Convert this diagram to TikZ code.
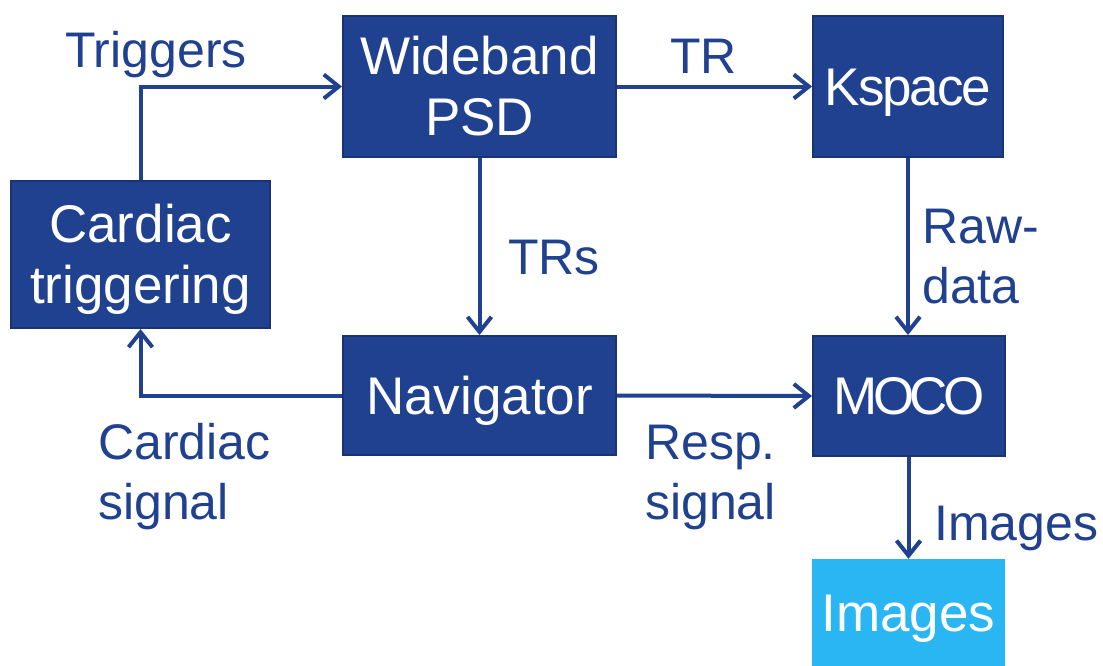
\documentclass[tikz,border=0pt]{standalone}
\usepackage{fontspec}
\setmainfont{Liberation Sans}
\usetikzlibrary{arrows.meta}
\definecolor{boxblue}{HTML}{1F4190}
\definecolor{edgeblue}{HTML}{1A3472}
\definecolor{lightblue}{HTML}{29B6F2}
\tikzset{
  blk/.style={draw=edgeblue, line width=2pt, fill=boxblue, text=white, inner sep=0pt, align=center,
    font=\fontsize{53}{61}\selectfont},
  oneline/.style={text height=38pt, text depth=1pt},
  lblk/.style={fill=lightblue, text=white, inner sep=0pt, align=center, font=\fontsize{53}{61}\selectfont},
  inlab/.style={text=white, inner sep=0pt, align=center, font=\fontsize{53}{61}\selectfont},
  lab/.style={text=boxblue, inner sep=0pt, align=left, font=\fontsize{50}{60}\selectfont},
  conn/.style={draw=boxblue, line width=4pt, -{Straight Barb[length=15pt,width=24pt,line width=4pt]}}
}
\begin{document}
\begin{tikzpicture}[x=1pt,y=-1pt]
\useasboundingbox (0,0) rectangle (1103,665);
\node[blk, minimum width=259pt, minimum height=147pt,
  label={[inlab, yshift=-5pt]center:Cardiac\\triggering}] (card) at (140.5,254.5) {};
\node[blk, minimum width=273pt, minimum height=141pt] (wide) at (479.5,86.5) {Wideband\\PSD};
\node[blk, oneline, minimum width=190pt, minimum height=141pt] (ksp) at (908,86.5) {\addfontfeature{LetterSpace=-4}Kspace};
\node[blk, oneline, minimum width=273pt, minimum height=119pt] (nav) at (479.5,395.5) {Navigator};
\node[blk, oneline, minimum width=192pt, minimum height=120pt] (moco) at (909,396) {\addfontfeature{LetterSpace=-9}MOCO};
\node[lblk, oneline, minimum width=193pt, minimum height=108pt] (img) at (908.5,613) {Images};

\draw[conn] (card.north) |- (wide.west);
\draw[conn] (wide.east) -- (ksp.west);
\draw[conn] (wide.south) -- (nav.north);
\draw[conn] (ksp.south) -- (ksp.south |- moco.north);
\draw[conn] (nav.west) -| (card.south);
\draw[conn] (nav.east) -- (moco.west);
\draw[conn] (moco.south -| img.north) -- (img.north);

\node[lab, anchor=base west] (tlab) at (65,67) {Triggers};
\node[lab, anchor=base west] (trlab) at (670,73) {TR};
\node[lab, anchor=base west] (trslab) at (508,274) {TRs};
\node[lab, anchor=west] (rawlab) at (922,257) {Raw-\\data};
\node[lab, anchor=west] (cslab) at (98,477) {Cardiac\\signal};
\node[lab, anchor=west] (rslab) at (645,477) {Resp.\\signal};
\node[lab, anchor=base west] (imlab) at (934,540) {Images};
\end{tikzpicture}
\end{document}
